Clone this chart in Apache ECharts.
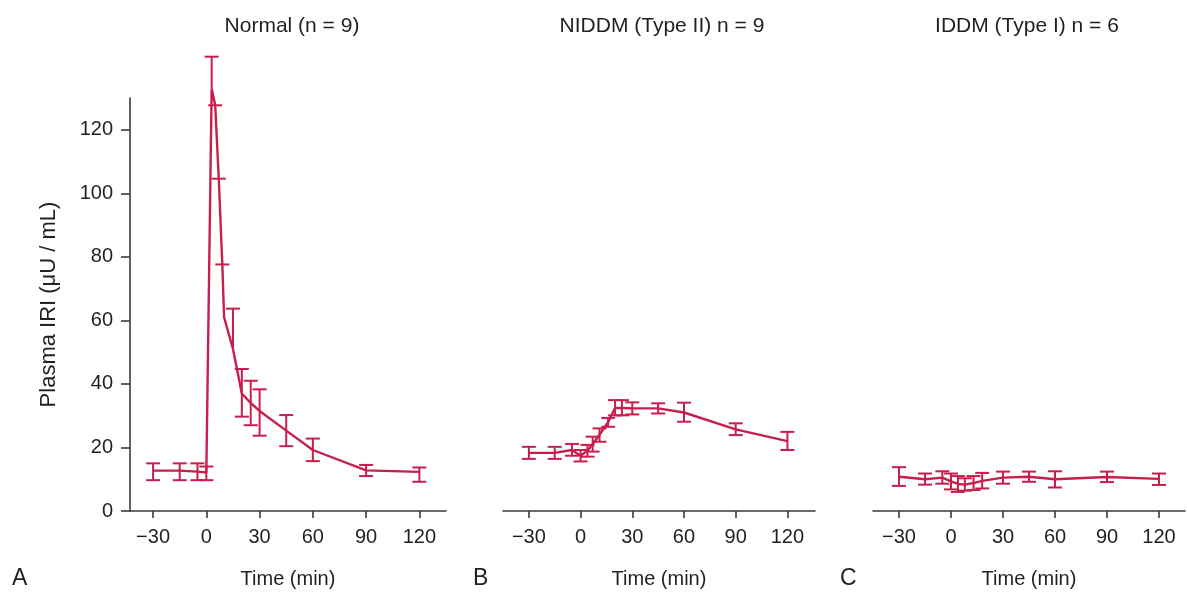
<!DOCTYPE html>
<html>
<head>
<meta charset="utf-8">
<script src="https://cdn.jsdelivr.net/npm/echarts@6/dist/echarts.min.js"></script>
<style>
  html, body { margin: 0; padding: 0; background: #fff; }
  #chart { width: 1187px; height: 599px; }
</style>
</head>
<body>
<div id="chart"></div>
<script>
// tick labels
const xTicks = [-30, 0, 30, 60, 90, 120]
const yTicks = [0, 20, 40, 60, 80, 100, 120]

const panelTitles = ['Normal (n = 9)', 'NIDDM (Type II) n = 9', 'IDDM (Type I) n = 6']
const panelLetters = ['A', 'B', 'C']

// A: normal (null = no bar drawn)
const normalTime = [-30, -15, -5, 0, 3, 5, 7, 9, 10, 15, 20, 25, 30, 45, 60, 90, 120]
const normalMean = [12.7, 12.7, 12.4, 12.1, 133, 127.7, 104.6, 77.6, 61, 51, 37, 34, 31.5, 25.3, 19.2, 12.8, 12.3]
const normalLo = [9.7, 9.7, 9.7, 9.7, 133, 127.7, 104.6, 77.6, null, 51, 29.7, 27, 23.7, 20.4, 15.7, 11.0, 9.2]
const normalHi = [15.0, 15.0, 15.0, 14.0, 143, 127.7, 104.6, 77.6, null, 63.7, 44.7, 41, 38.3, 30.2, 22.8, 14.5, 13.7]

// B: NIDDM
const niddmTime = [-30, -15, -5, 0, 4, 7, 11, 16, 20, 24, 30, 45, 60, 90, 120]
const niddmMean = [18.3, 18.3, 19.2, 17.4, 19.0, 21.0, 24.0, 28.0, 32.4, 32.4, 32.3, 32.3, 31.0, 25.7, 22.0]
const niddmLo = [16.4, 16.4, 17.4, 15.6, 17.1, 18.7, 21.8, 26.5, 30.1, 30.1, 30.4, 30.7, 28.1, 23.9, 19.2]
const niddmHi = [20.2, 20.2, 21.1, 19.2, 20.8, 23.4, 26.0, 29.3, 34.9, 34.9, 34.2, 33.9, 34.1, 27.6, 24.9]

// C: IDDM
const iddmTime = [-30, -15, -5, 0, 4, 8, 13, 18, 30, 45, 60, 90, 120]
const iddmMean = [10.8, 10.0, 10.5, 9.3, 8.5, 8.3, 8.8, 9.5, 10.5, 10.8, 10.0, 10.7, 10.1]
const iddmLo = [7.9, 8.3, 8.6, 6.8, 6.0, 6.4, 6.6, 7.1, 8.6, 9.2, 7.4, 9.1, 8.2]
const iddmHi = [13.8, 11.8, 12.5, 11.8, 11.0, 10.3, 11.0, 12.0, 12.4, 12.4, 12.5, 12.4, 11.8]

const RED = '#c81e4e'
const INK = '#231f20'
const FONT = "'Liberation Sans Narrow', 'Liberation Sans', sans-serif"

const grids = [
  { left: 130, width: 316, top: 98, height: 413 },
  { left: 503, width: 312, top: 98, height: 413 },
  { left: 873, width: 312, top: 98, height: 413 }
]
const xRanges = [[-43, 135], [-45, 136], [-45, 135]]
const titleX = [287, 657, 1022]
const letterX = [12, 473, 840]

const groups = [
  [normalTime, normalMean, normalLo, normalHi],
  [niddmTime, niddmMean, niddmLo, niddmHi],
  [iddmTime, iddmMean, iddmLo, iddmHi]
]

function errorBarItem(params, api) {
  const x = api.value(0)
  const m = api.value(1)
  const lo = api.value(2)
  const hi = api.value(3)
  const pHi = api.coord([x, hi])
  const pLo = api.coord([x, lo])
  const w = 7
  const style = { stroke: RED, lineWidth: 2 }
  const cap = p => ({
    type: 'line',
    shape: { x1: p[0] - w, y1: p[1], x2: p[0] + w, y2: p[1] },
    style
  })
  const children = []
  if (hi === lo) {
    children.push(cap(pHi))
  } else {
    children.push({
      type: 'line',
      shape: { x1: pHi[0], y1: pHi[1], x2: pLo[0], y2: pLo[1] },
      style
    })
    if (hi > m) children.push(cap(pHi))
    if (lo < m) children.push(cap(pLo))
  }
  return { type: 'group', children }
}

const axisLine = { show: true, onZero: false, lineStyle: { color: '#3a3a3a', width: 1.6 } }
const tickLabel = { color: INK, fontFamily: FONT, fontSize: 20 }
const nameStyle = { color: INK, fontFamily: FONT, fontSize: 20 }

const option = {
  animation: false,
  backgroundColor: '#fff',
  title: panelTitles.map((t, i) => ({
    text: t,
    left: titleX[i],
    top: 11,
    textAlign: 'center',
    textStyle: { color: INK, fontFamily: FONT, fontSize: 21, fontWeight: 'normal' }
  })),
  grid: grids,
  xAxis: grids.map((g, i) => ({
    type: 'value',
    gridIndex: i,
    min: xRanges[i][0],
    max: xRanges[i][1],
    name: 'Time (min)',
    nameLocation: 'middle',
    nameGap: 58,
    nameTextStyle: nameStyle,
    axisLine,
    axisTick: { show: true, length: 7, customValues: xTicks, lineStyle: { color: '#3a3a3a', width: 1.6 } },
    axisLabel: {
      ...tickLabel,
      margin: 16,
      customValues: xTicks,
      formatter: v => (v < 0 ? '\u2212' + Math.abs(v) : String(v))
    },
    splitLine: { show: false }
  })),
  yAxis: grids.map((g, i) => ({
    type: 'value',
    gridIndex: i,
    min: 0,
    max: 130,
    show: i === 0,
    name: i === 0 ? 'Plasma IRI (\u03bcU / mL)' : '',
    nameLocation: 'middle',
    nameGap: 70,
    nameTextStyle: { ...nameStyle, fontSize: 22 },
    axisLine,
    axisTick: { show: true, length: 9, customValues: yTicks, lineStyle: { color: '#3a3a3a', width: 1.6 } },
    axisLabel: { ...tickLabel, margin: 17, customValues: yTicks },
    splitLine: { show: false }
  })),
  series: groups.flatMap((g, i) => {
    const [time, mean, lo, hi] = g
    return [
      {
        type: 'line',
        xAxisIndex: i,
        yAxisIndex: i,
        data: time.map((t, k) => [t, mean[k]]),
        symbol: 'none',
        clip: false,
        lineStyle: { color: RED, width: 2.4 },
        z: 2
      },
      {
        type: 'custom',
        xAxisIndex: i,
        yAxisIndex: i,
        clip: false,
        renderItem: errorBarItem,
        data: time
          .map((t, k) => [t, mean[k], lo[k], hi[k]])
          .filter(d => d[2] !== null && d[3] !== null),
        encode: { x: 0, y: [2, 3] },
        z: 3
      }
    ]
  }),
  graphic: panelLetters.map((l, i) => ({
    type: 'text',
    left: letterX[i],
    top: 567,
    style: { text: l, fill: INK, font: '23px ' + FONT }
  }))
}

const myChart = echarts.init(document.getElementById('chart'))
myChart.setOption(option)
</script>
</body>
</html>
